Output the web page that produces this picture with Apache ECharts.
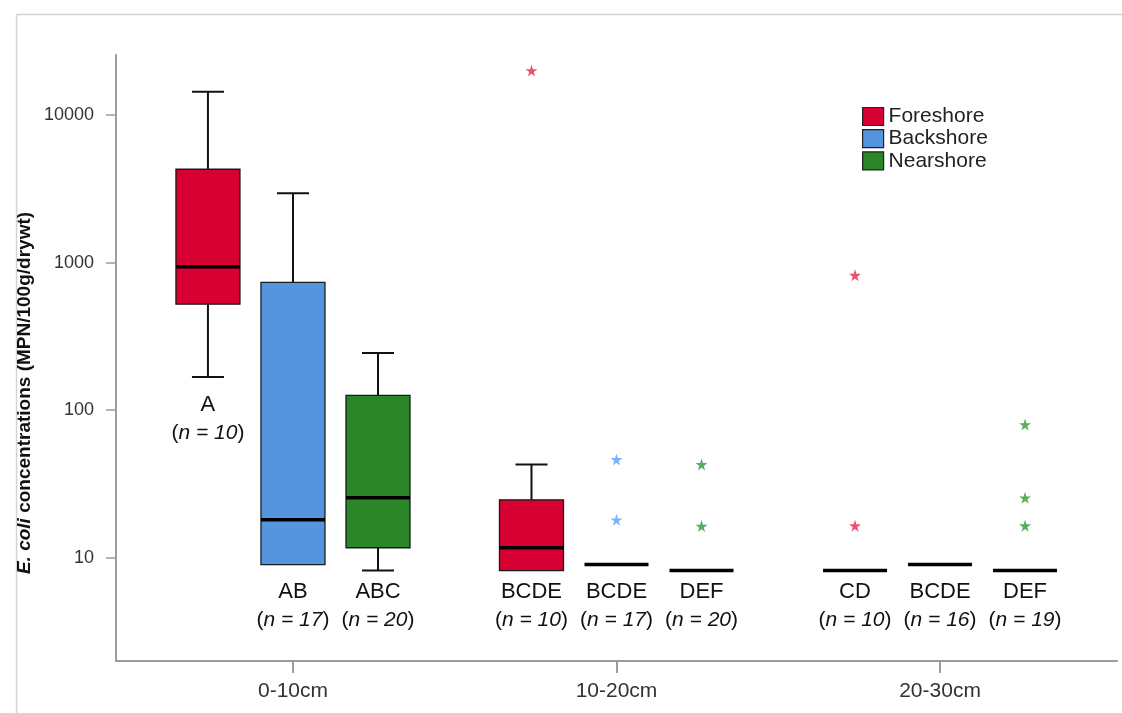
<!DOCTYPE html>
<html>
<head>
<meta charset="utf-8">
<script src="https://cdn.jsdelivr.net/npm/echarts@6/dist/echarts.min.js"></script>
<style>
  html, body { margin: 0; padding: 0; background: #ffffff; }
  #chart { width: 1122px; height: 713px; }
</style>
</head>
<body>
<div id="chart"></div>
<script>
// Sampling depths (x categories) and beach zones (series)
const depths = ['0-10cm', '10-20cm', '20-30cm'];
const zones = ['Foreshore', 'Backshore', 'Nearshore'];

// Five-number summaries per depth: [lower whisker, Q1, median, Q3, upper whisker]
const foreshoreStats = [[168, 523, 936, 4290, 14400], [8.2, 8.2, 11.7, 24.7, 42.8], [8.2, 8.2, 8.2, 8.2, 8.2]];
const backshoreStats = [[9.0, 9.0, 18.1, 734, 2950], [9.0, 9.0, 9.0, 9.0, 9.0], [9.0, 9.0, 9.0, 9.0, 9.0]];
const nearshoreStats = [[8.2, 11.7, 25.5, 126, 244], [8.2, 8.2, 8.2, 8.2, 8.2], [8.2, 8.2, 8.2, 8.2, 8.2]];

// Extreme values: [depth index, value]
const foreshoreOutliers = [[1, 20000], [2, 822], [2, 16.5]];
const backshoreOutliers = [[1, 46.4], [1, 18.1]];
const nearshoreOutliers = [[1, 42.9], [1, 16.4], [2, 80], [2, 25.5], [2, 16.5]];

// Homogeneous subset letters and sample sizes
const foreshoreLetters = ['A', 'BCDE', 'CD'];
const backshoreLetters = ['AB', 'BCDE', 'BCDE'];
const nearshoreLetters = ['ABC', 'DEF', 'DEF'];
const foreshoreN = [10, 10, 10];
const backshoreN = [17, 17, 16];
const nearshoreN = [20, 20, 19];

// Y axis tick values
const yTicks = [10, 100, 1000, 10000];

const FONT = '"Liberation Sans", Arial, Helvetica, sans-serif';
const boxColors = ['#d60032', '#5595e0', '#2a8629'];
const starColors = ['#e3284f', '#5d9ff0', '#2f9a35'];
const groupStep = 0.2628;          // horizontal spacing between zones inside a depth group
const BOX_W = 64, CAP_W = 32;
const STAR = 'path://M50,0 L61,35 L98,35 L68,57 L79,91 L50,70 L21,91 L32,57 L2,35 L39,35 Z';

const statsByZone = [foreshoreStats, backshoreStats, nearshoreStats];
const outliersByZone = [foreshoreOutliers, backshoreOutliers, nearshoreOutliers];
const lettersByZone = [foreshoreLetters, backshoreLetters, nearshoreLetters];
const nByZone = [foreshoreN, backshoreN, nearshoreN];

function boxSeries(k) {
  const offset = (k - 1) * groupStep;
  return {
    name: zones[k],
    type: 'custom',
    xAxisIndex: 0,
    yAxisIndex: 0,
    encode: { x: 0, y: [1, 2, 3, 4, 5] },
    data: statsByZone[k].map((s, d) => [d].concat(s)),
    itemStyle: { color: boxColors[k] },
    z: 3,
    renderItem: function (params, api) {
      const d = api.value(0);
      const xc = api.coord([d + offset, 10])[0];
      const py = i => api.coord([d + offset, api.value(i)])[1];
      const lo = py(1), q1 = py(2), md = py(3), q3 = py(4), hi = py(5);
      const children = [];
      const whisk = { stroke: '#111', lineWidth: 2 };
      if (q3 - hi > 0.5) {
        children.push({ type: 'line', shape: { x1: xc, y1: q3, x2: xc, y2: hi }, style: whisk });
        children.push({ type: 'line', shape: { x1: xc - CAP_W / 2, y1: hi, x2: xc + CAP_W / 2, y2: hi }, style: whisk });
      }
      if (lo - q1 > 0.5) {
        children.push({ type: 'line', shape: { x1: xc, y1: q1, x2: xc, y2: lo }, style: whisk });
        children.push({ type: 'line', shape: { x1: xc - CAP_W / 2, y1: lo, x2: xc + CAP_W / 2, y2: lo }, style: whisk });
      }
      if (q1 - q3 > 0.5) {
        children.push({
          type: 'rect',
          shape: { x: xc - BOX_W / 2, y: q3, width: BOX_W, height: q1 - q3 },
          style: { fill: boxColors[k], stroke: '#1a1a1a', lineWidth: 1.3 }
        });
      }
      children.push({
        type: 'line',
        shape: { x1: xc - BOX_W / 2, y1: md, x2: xc + BOX_W / 2, y2: md },
        style: { stroke: '#000', lineWidth: 3.5 }
      });
      const idx = params.dataIndex;
      const top = Math.min(lo + 14, 578);
      children.push({
        type: 'text',
        x: xc,
        y: top,
        style: {
          text: '{l|' + lettersByZone[k][idx] + '}\n{p|(}{i|n = ' + nByZone[k][idx] + '}{p|)}',
          align: 'center',
          verticalAlign: 'top',
          rich: {
            l: { fontSize: 22, lineHeight: 28, fontFamily: FONT, fill: '#111' },
            p: { fontSize: 21, lineHeight: 28, fontFamily: FONT, fill: '#111' },
            i: { fontSize: 21, lineHeight: 28, fontFamily: FONT, fontStyle: 'italic', fill: '#111' }
          }
        }
      });
      return { type: 'group', children: children };
    }
  };
}

function outlierSeries(k) {
  const offset = (k - 1) * groupStep;
  return {
    name: zones[k] + ' extremes',
    type: 'scatter',
    symbol: STAR,
    symbolSize: 12,
    itemStyle: { color: starColors[k] },
    data: outliersByZone[k].map(([d, v]) => [d + offset, v]),
    z: 4
  };
}

const axisGrey = '#9c9c9c';
const chart = echarts.init(document.getElementById('chart'), null, { renderer: 'canvas' });
chart.setOption({
  backgroundColor: '#ffffff',
  animation: false,
  textStyle: { fontFamily: FONT },
  grid: { left: 116, top: 55, width: 1001, height: 606, containLabel: false },
  legend: {
    orient: 'vertical',
    left: 862,
    top: 106,
    padding: 0,
    itemWidth: 21,
    itemHeight: 18,
    itemGap: 1.2,
    icon: 'rect',
    selectedMode: false,
    textStyle: { fontSize: 21, lineHeight: 18, color: '#222', fontFamily: FONT },
    data: zones.map((z, i) => ({
      name: z,
      itemStyle: { color: boxColors[i], borderColor: '#222', borderWidth: 1.2 }
    }))
  },
  xAxis: {
    type: 'value',
    min: -0.547,
    max: 2.547,
    axisLine: { show: true, onZero: false, lineStyle: { color: axisGrey, width: 2 } },
    axisTick: { show: true, customValues: depths.map((_, i) => i), length: 12, lineStyle: { color: axisGrey, width: 2 } },
    axisLabel: {
      customValues: depths.map((_, i) => i),
      formatter: v => depths[Math.round(v)],
      fontSize: 21,
      color: '#333',
      margin: 20,
      fontFamily: FONT
    },
    splitLine: { show: false }
  },
  yAxis: {
    type: 'log',
    logBase: 10,
    min: 2,
    max: 25500,
    axisLine: { show: true, onZero: false, lineStyle: { color: axisGrey, width: 2 } },
    axisTick: { show: true, customValues: yTicks, length: 10, lineStyle: { color: axisGrey, width: 1.5 } },
    axisLabel: {
      customValues: yTicks,
      formatter: v => String(Math.round(v)),
      fontSize: 18,
      color: '#333',
      margin: 22,
      fontFamily: FONT
    },
    splitLine: { show: false }
  },
  graphic: [
    { type: 'line', shape: { x1: 16.5, y1: 14.5, x2: 1122, y2: 14.5 }, style: { stroke: '#d4d4d4', lineWidth: 1.5 } },
    { type: 'line', shape: { x1: 16.5, y1: 14.5, x2: 16.5, y2: 713 }, style: { stroke: '#d4d4d4', lineWidth: 1.5 } },
    {
      type: 'text',
      x: 25,
      y: 393,
      rotation: Math.PI / 2,
      style: {
        text: '{i|E. coli} concentrations (MPN/100g/drywt)',
        rich: { i: { fontStyle: 'italic', fontWeight: 'bold', fontSize: 19, fontFamily: FONT, fill: '#111' } },
        fontSize: 19,
        fontWeight: 'bold',
        fontFamily: FONT,
        fill: '#111',
        align: 'center',
        verticalAlign: 'middle'
      }
    }
  ],
  series: [0, 1, 2].map(boxSeries).concat([0, 1, 2].map(outlierSeries))
});
</script>
</body>
</html>
